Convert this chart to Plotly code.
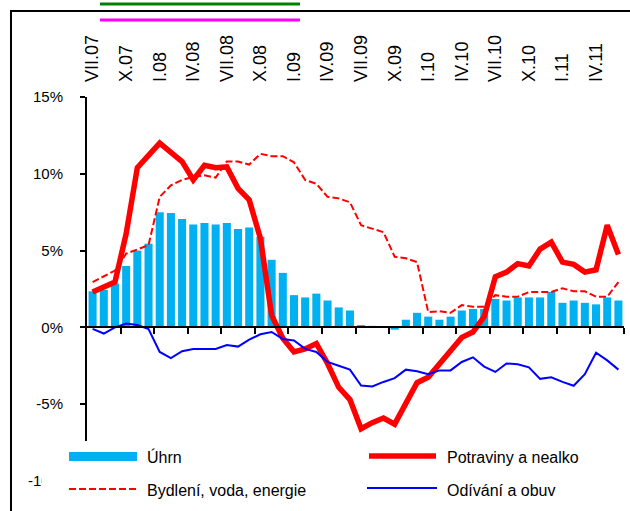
import plotly.graph_objects as go

months = ["VII.07", "VIII.07", "IX.07", "X.07", "XI.07", "XII.07",
          "I.08", "II.08", "III.08", "IV.08", "V.08", "VI.08",
          "VII.08", "VIII.08", "IX.08", "X.08", "XI.08", "XII.08",
          "I.09", "II.09", "III.09", "IV.09", "V.09", "VI.09",
          "VII.09", "VIII.09", "IX.09", "X.09", "XI.09", "XII.09",
          "I.10", "II.10", "III.10", "IV.10", "V.10", "VI.10",
          "VII.10", "VIII.10", "IX.10", "X.10", "XI.10", "XII.10",
          "I.11", "II.11", "III.11", "IV.11", "V.11", "VI.11"]

uhrn = [2.35, 2.45, 2.85, 4.0, 5.0, 5.45, 7.5, 7.45, 7.05, 6.7, 6.8, 6.7,
        6.8, 6.4, 6.5, 5.9, 4.4, 3.55, 2.1, 1.95, 2.2, 1.75, 1.3, 1.1,
        0.15, 0.1, 0.0, -0.15, 0.5, 0.95, 0.7, 0.5, 0.7, 1.1, 1.2, 1.2,
        1.85, 1.75, 1.95, 1.95, 1.95, 2.3, 1.6, 1.75, 1.6, 1.5, 1.95, 1.75]

potraviny = [2.3, 2.65, 2.95, 6.1, 10.4, 11.2, 12.0, 11.4, 10.8, 9.6, 10.55, 10.4,
             10.45, 9.05, 8.3, 5.8, 0.8, -0.7, -1.6, -1.4, -1.05, -2.35, -3.9, -4.7,
             -6.6, -6.2, -5.9, -6.3, -4.9, -3.6, -3.25, -2.35, -1.45, -0.65, -0.3, 0.7,
             3.3, 3.6, 4.15, 4.0, 5.1, 5.55, 4.25, 4.1, 3.6, 3.75, 6.65, 4.75]

bydleni = [2.95, 3.3, 3.7, 4.8, 5.1, 5.35, 8.5, 9.25, 9.6, 9.8, 9.9, 9.75,
           10.8, 10.8, 10.6, 11.3, 11.15, 11.15, 10.75, 9.6, 9.35, 8.5, 8.4, 8.15,
           6.65, 6.45, 6.2, 4.6, 4.5, 4.25, 1.0, 1.05, 0.95, 1.45, 1.35, 1.35,
           2.1, 2.0, 2.0, 2.3, 2.3, 2.3, 2.55, 2.35, 2.35, 2.0, 2.0, 2.95]

odivani = [-0.1, -0.4, 0.0, 0.25, 0.15, -0.1, -1.6, -2.0, -1.55, -1.4, -1.4, -1.4,
           -1.15, -1.25, -0.8, -0.45, -0.3, -0.75, -0.85, -1.4, -1.6, -2.25, -2.5, -2.75,
           -3.78, -3.85, -3.55, -3.3, -2.75, -2.85, -3.05, -2.8, -2.8, -2.25, -1.95, -2.55,
           -2.9, -2.35, -2.4, -2.6, -3.35, -3.25, -3.55, -3.8, -3.05, -1.65, -2.15, -2.75]

y_ticks = [-10, -5, 0, 5, 10, 15]
y_tick_text = [f"{v}%" for v in y_ticks]
series_names = ["Úhrn", "Potraviny a nealko", "Bydlení, voda, energie", "Odívání a obuv"]

idx = list(range(len(months)))
label_idx = idx[::3]
label_text = months[::3]
boundary_ticks = [i + 2.5 for i in range(0, len(months), 3)]

W, H = 630, 511
L, R, T, B = 87, 6, 82, 30
PW, PH = W - L - R, H - T - B
YMIN, YMAX = -10, 15
ydom_top = (H - B - 97) / PH


def px(x):
    return (x - L) / PW


def py(y):
    return (H - B - y) / PH


BLUE_BAR = "#00B0F0"
RED = "#FF0000"
BLUE = "#0000FF"
FONT = "Liberation Sans, Arial, sans-serif"

fig = go.Figure()
fig.add_trace(go.Bar(x=idx, y=uhrn, name=series_names[0], marker=dict(color=BLUE_BAR, line=dict(width=0)),
                     width=0.72))
fig.add_trace(go.Scatter(x=idx, y=potraviny, name=series_names[1], mode="lines",
                         line=dict(color=RED, width=5.5)))
fig.add_trace(go.Scatter(x=idx, y=bydleni, name=series_names[2], mode="lines",
                         line=dict(color=RED, width=2, dash="7px,3px")))
fig.add_trace(go.Scatter(x=idx, y=odivani, name=series_names[3], mode="lines",
                         line=dict(color=BLUE, width=2)))
fig.add_trace(go.Scatter(x=label_idx, y=[0] * len(label_idx), xaxis="x2", yaxis="y",
                         mode="markers", marker=dict(opacity=0), hoverinfo="skip"))

zero_pos = (0 - YMIN) / (YMAX - YMIN) * ydom_top

fig.update_layout(
    width=W, height=H,
    margin=dict(l=L, r=R, t=T, b=B, pad=0),
    paper_bgcolor="white", plot_bgcolor="white",
    showlegend=False,
    font=dict(family=FONT, color="black", size=15),
    xaxis=dict(range=[-0.5, len(months) - 0.5], domain=[0, 1], anchor="free", position=zero_pos,
               showline=True, linecolor="black", linewidth=2, automargin=False,
               tickmode="array", tickvals=boundary_ticks, ticks="outside", ticklen=6,
               tickwidth=1.5, tickcolor="black",
               showticklabels=False, showgrid=False, zeroline=False),
    xaxis2=dict(range=[-0.5, len(months) - 0.5], overlaying="x", side="top", anchor="free",
                position=1, showline=False, ticks="", tickmode="array", automargin=False,
                tickvals=label_idx, ticktext=label_text, tickangle=-90,
                tickfont=dict(size=18, family=FONT, color="black"),
                showgrid=False, zeroline=False),
    yaxis=dict(range=[YMIN, YMAX], domain=[0, ydom_top], anchor="x", automargin=False,
               showline=True, linecolor="black", linewidth=2,
               tickmode="array", tickvals=y_ticks, ticktext=y_tick_text,
               ticks="outside", ticklen=5, tickwidth=1.5, tickcolor="black",
               ticklabelstandoff=14,
               tickfont=dict(size=15, family=FONT, color="black"),
               showgrid=False, zeroline=False),
)

shapes = []
shapes.append(dict(type="rect", xref="paper", yref="paper", layer="above",
                   x0=px(42), x1=px(640), y0=py(441), y1=py(520),
                   fillcolor="white", line=dict(width=0)))
shapes.append(dict(type="rect", xref="paper", yref="paper", layer="above",
                   x0=px(11), x1=px(700), y0=py(600), y1=py(11),
                   fillcolor="rgba(0,0,0,0)", line=dict(color="black", width=2)))
# diagnostic lines
shapes.append(dict(type="line", xref="paper", yref="paper", layer="above",
                   x0=px(100), x1=px(300), y0=py(4), y1=py(4), line=dict(color="green", width=3)))
shapes.append(dict(type="line", xref="paper", yref="paper", layer="above",
                   x0=px(100), x1=px(300), y0=py(20), y1=py(20), line=dict(color="magenta", width=3)))
shapes.append(dict(type="rect", xref="paper", yref="paper", layer="above",
                   x0=px(69), x1=px(137), y0=py(452), y1=py(461),
                   fillcolor=BLUE_BAR, line=dict(width=0)))
shapes.append(dict(type="line", xref="paper", yref="paper", layer="above",
                   x0=px(369), x1=px(436), y0=py(456), y1=py(456), line=dict(color=RED, width=5.5)))
shapes.append(dict(type="line", xref="paper", yref="paper", layer="above",
                   x0=px(69), x1=px(137), y0=py(489), y1=py(489),
                   line=dict(color=RED, width=2, dash="7px,3px")))
shapes.append(dict(type="line", xref="paper", yref="paper", layer="above",
                   x0=px(367), x1=px(437), y0=py(488), y1=py(488), line=dict(color=BLUE, width=2)))
fig.update_layout(shapes=shapes)

legend_pos = [(145, 457), (445, 457), (145, 491), (445, 491)]
for name, (lx, ly) in zip(series_names, legend_pos):
    fig.add_annotation(text=name, xref="paper", yref="paper", x=px(lx), y=py(ly),
                       xanchor="left", yanchor="middle", showarrow=False,
                       font=dict(size=16, family=FONT, color="black"))

fig.write_html("out.html", config={"displayModeBar": False},
               post_script="document.body.style.margin='0';document.body.style.overflow='hidden';")
